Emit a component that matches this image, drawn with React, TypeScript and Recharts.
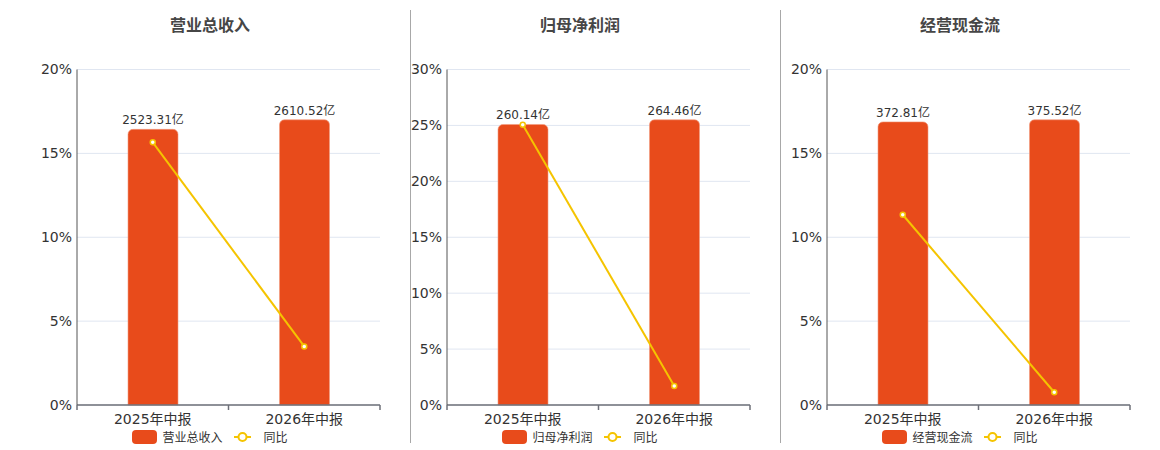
import {
  ComposedChart,
  Bar,
  Line,
  XAxis,
  YAxis,
  CartesianGrid,
  LabelList,
} from "recharts";

const categories = ["2025年中报", "2026年中报"];

const revenueValues = [2523.31, 2610.52];
const revenueYoy = [15.66, 3.49];

const profitValues = [260.14, 264.46];
const profitYoy = [25.05, 1.7];

const cashValues = [372.81, 375.52];
const cashYoy = [11.34, 0.76];

const yoyTicks20 = [0, 5, 10, 15, 20];
const yoyTicks30 = [0, 5, 10, 15, 20, 25, 30];

const BAR_COLOR = "#e84b1b";
const LINE_COLOR = "#f5c400";
const AXIS_COLOR = "#6e7079";
const FONT = '"DejaVu Sans", "Noto Sans CJK SC", sans-serif';

const CHART_W = 400;
const MARGIN = { top: 69.5, right: 20, bottom: 15, left: 17 };
const Y_AXIS_W = 60;
const PLOT_W = CHART_W - MARGIN.left - MARGIN.right - Y_AXIS_W;
const TICK_GAP = 9;

// category label plus echarts-style tick marks on the band edges
function CategoryTick(props: any) {
  const { x, y, payload, index } = props;
  const half = PLOT_W / categories.length / 2;
  const axisY = y - TICK_GAP;
  const isLast = index === categories.length - 1;
  return (
    <g>
      <line x1={x - half} x2={x - half} y1={axisY} y2={axisY + 5} stroke={AXIS_COLOR} strokeWidth={1.5} />
      {isLast && (
        <line x1={x + half} x2={x + half} y1={axisY} y2={axisY + 5} stroke={AXIS_COLOR} strokeWidth={1.5} />
      )}
      <text x={x} y={y} dy="0.71em" textAnchor="middle" fill="#333" fontSize={14}>
        {payload.value}
      </text>
    </g>
  );
}

interface PanelProps {
  title: string;
  values: number[];
  yoy: number[];
  ticks: number[];
  left: number;
}

function Panel({ title, values, yoy, ticks, left }: PanelProps) {
  const data = categories.map((name, i) => ({ name, value: values[i], yoy: yoy[i] }));

  return (
    <div style={{ position: "absolute", left, top: 0, width: CHART_W, height: 450 }}>
      <div
        style={{
          position: "absolute",
          left: 0,
          width: 420,
          top: 12,
          textAlign: "center",
          fontSize: 16,
          fontWeight: "bold",
          color: "#464646",
          fontFamily: FONT,
        }}
      >
        {title}
      </div>
      <ComposedChart width={CHART_W} height={450} data={data} margin={MARGIN} style={{ fontFamily: FONT }}>
        <CartesianGrid yAxisId="yoy" vertical={false} stroke="#e0e6f1" />
        <XAxis
          dataKey="name"
          height={30}
          tickLine={false}
          axisLine={{ stroke: AXIS_COLOR, strokeWidth: 1.5 }}
          tickSize={0}
          tickMargin={TICK_GAP}
          tick={<CategoryTick />}
          interval={0}
        />
        <YAxis
          yAxisId="yoy"
          width={Y_AXIS_W}
          domain={[0, ticks[ticks.length - 1]]}
          ticks={ticks}
          tickFormatter={(v) => `${v}%`}
          tickLine={false}
          tickSize={0}
          tickMargin={5}
          axisLine={{ stroke: "#555" }}
          tick={{ fill: "#333", fontSize: 14 }}
        />
        <YAxis
          yAxisId="bar"
          orientation="right"
          width={0}
          hide
          domain={[0, (dataMax: number) => dataMax / 0.85]}
        />
        <Bar
          yAxisId="bar"
          dataKey="value"
          fill={BAR_COLOR}
          stroke="#f29c80"
          strokeWidth={0.6}
          barSize={50}
          radius={[5, 5, 0, 0]}
          isAnimationActive={false}
        >
          <LabelList
            dataKey="value"
            position="top"
            offset={5}
            formatter={(v: number) => `${v}亿`}
            style={{ fill: "#333", fontSize: 12 }}
          />
        </Bar>
        <Line
          yAxisId="yoy"
          type="linear"
          dataKey="yoy"
          stroke={LINE_COLOR}
          strokeWidth={2}
          dot={{ r: 2.5, fill: "#fff", stroke: LINE_COLOR, strokeWidth: 1.5 }}
          isAnimationActive={false}
        />
      </ComposedChart>
      <div
        style={{
          position: "absolute",
          left: 0,
          width: 420,
          top: 428,
          display: "flex",
          justifyContent: "center",
          alignItems: "center",
          fontSize: 12,
          color: "#333",
          fontFamily: FONT,
        }}
      >
        <span
          style={{
            display: "inline-block",
            width: 25,
            height: 14,
            borderRadius: 4,
            background: BAR_COLOR,
            marginRight: 5,
          }}
        />
        <span style={{ marginRight: 11 }}>{title}</span>
        <svg width={17} height={14} style={{ marginRight: 13 }}>
          <line x1={0} y1={7} x2={17} y2={7} stroke={LINE_COLOR} strokeWidth={2} />
          <circle cx={8.5} cy={7} r={4} fill="#fff" stroke={LINE_COLOR} strokeWidth={2} />
        </svg>
        <span>同比</span>
      </div>
    </div>
  );
}

export default function App() {
  return (
    <div style={{ position: "absolute", left: 0, top: 0, width: 1160, height: 450, background: "#fff" }}>
      <Panel title="营业总收入" values={revenueValues} yoy={revenueYoy} ticks={yoyTicks20} left={0} />
      <Panel title="归母净利润" values={profitValues} yoy={profitYoy} ticks={yoyTicks30} left={370} />
      <Panel title="经营现金流" values={cashValues} yoy={cashYoy} ticks={yoyTicks20} left={750} />
      <div style={{ position: "absolute", left: 410, top: 10, width: 1, height: 433, background: "#a8a8a8" }} />
      <div style={{ position: "absolute", left: 780, top: 10, width: 1, height: 433, background: "#a8a8a8" }} />
    </div>
  );
}
